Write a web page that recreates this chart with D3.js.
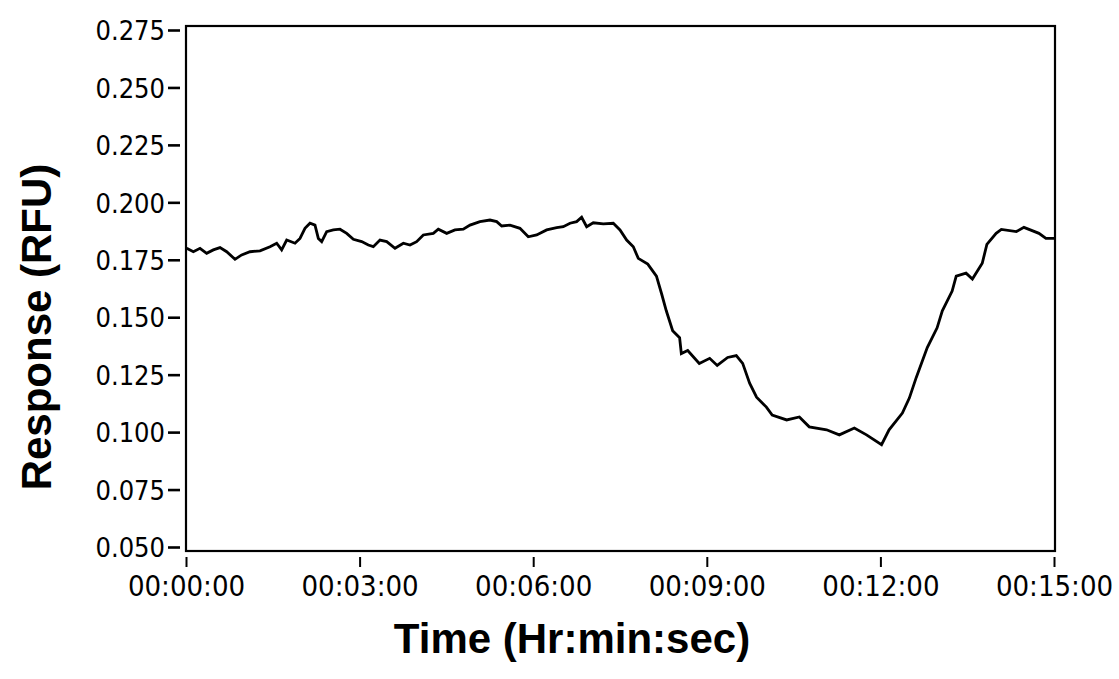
<!DOCTYPE html>
<html>
<head>
<meta charset="utf-8">
<script src="https://cdn.jsdelivr.net/npm/d3@7"></script>
<style>
  html, body { margin: 0; padding: 0; background: #fff; }
  svg { display: block; }
</style>
</head>
<body>
<svg id="chart" width="1119" height="679"></svg>
<script>
// ---- Data (time in minutes, response in RFU) ----
const timeMin = [
  0.012,0.127,0.242,0.357,0.472,0.588,0.703,0.847,0.962,1.106,1.279,1.452,1.567,1.653,1.740,1.884,1.970,2.056,2.143,2.229,
  2.287,2.345,2.431,2.546,2.661,2.777,2.892,3.036,3.151,3.237,3.352,3.468,3.612,3.756,3.871,3.986,4.101,4.274,4.360,4.505,
  4.648,4.792,4.908,5.080,5.253,5.369,5.455,5.599,5.771,5.915,6.060,6.233,6.406,6.520,6.636,6.751,6.837,6.924,7.038,7.211,
  7.384,7.500,7.615,7.730,7.816,7.98,8.13,8.22,8.30,8.41,8.53,8.56,8.67,8.87,9.05,9.18,9.36,9.51,9.62,9.74,
  9.86,10.03,10.13,10.38,10.60,10.77,11.07,11.29,11.55,11.76,12.02,12.15,12.38,12.50,12.62,12.81,12.98,13.07,13.24,13.31,
  13.48,13.59,13.76,13.84,14.00,14.09,14.35,14.48,14.74,14.86,15.00
];
const response = [
  0.1800,0.1785,0.1800,0.1778,0.1793,0.1803,0.1785,0.1752,0.1771,0.1785,0.1789,0.1807,0.1822,0.1793,0.1836,0.1822,0.1843,0.1887,0.1909,0.1901,
  0.1843,0.1829,0.1872,0.1880,0.1883,0.1865,0.1839,0.1829,0.1814,0.1807,0.1836,0.1829,0.1800,0.1822,0.1814,0.1829,0.1858,0.1865,0.1883,0.1865,
  0.1880,0.1883,0.1901,0.1916,0.1923,0.1916,0.1897,0.1901,0.1887,0.1850,0.1858,0.1880,0.1890,0.1894,0.1909,0.1916,0.1935,0.1894,0.1911,0.1906,
  0.1909,0.1880,0.1836,0.1807,0.1756,0.1731,0.1679,0.1601,0.1528,0.1441,0.1411,0.1342,0.1355,0.1299,0.1321,0.1290,0.1325,0.1333,0.1299,0.1213,
  0.1152,0.1109,0.1074,0.1053,0.1066,0.1023,0.1010,0.0988,0.1018,0.0988,0.0945,0.1010,0.1083,0.1148,0.1238,0.1368,0.1454,0.1528,0.1614,0.1679,
  0.1692,0.1666,0.1735,0.1817,0.1865,0.1882,0.1873,0.1891,0.1865,0.1843,0.1843
];
const xTicks = [0, 3, 6, 9, 12, 15];
const xTickLabels = ["00:00:00", "00:03:00", "00:06:00", "00:09:00", "00:12:00", "00:15:00"];
const yTicks = [0.050, 0.075, 0.100, 0.125, 0.150, 0.175, 0.200, 0.225, 0.250, 0.275];
const yTickLabels = ["0.050", "0.075", "0.100", "0.125", "0.150", "0.175", "0.200", "0.225", "0.250", "0.275"];
const xTitle = "Time (Hr:min:sec)";
const yTitle = "Response (RFU)";

// ---- Layout ----
const frame = { left: 186, right: 1055, top: 26, bottom: 551 };
const svg = d3.select("#chart");

const x = d3.scaleLinear().domain([0, 15]).range([186, 1054]);
const y = d3.scaleLinear().domain([0.050, 0.275]).range([547, 30]);

const tickFont = "'DejaVu Sans Condensed', 'DejaVu Sans', sans-serif";
const titleFont = "'Liberation Sans', Arial, sans-serif";

// Frame
svg.append("rect")
  .attr("x", frame.left).attr("y", frame.top)
  .attr("width", frame.right - frame.left).attr("height", frame.bottom - frame.top)
  .attr("fill", "#fff").attr("stroke", "#000").attr("stroke-width", 2.2);

// Y axis (ticks as short dashes left of frame)
const yAxis = d3.axisLeft(y)
  .tickValues(yTicks)
  .tickFormat((d, i) => yTickLabels[i])
  .tickSize(12)
  .tickPadding(3);
const gy = svg.append("g").attr("transform", "translate(180,0)").call(yAxis);
gy.select(".domain").remove();
gy.selectAll(".tick line").attr("stroke", "#000").attr("stroke-width", 2.6).attr("x2", -12).attr("x1", 0);
gy.selectAll(".tick text")
  .attr("font-family", tickFont)
  .attr("font-stretch", "condensed")
  .attr("font-size", 27)
  .attr("fill", "#000")
  .attr("dy", "0.36em");

// X axis (ticks below frame)
const xAxis = d3.axisBottom(x)
  .tickValues(xTicks)
  .tickFormat((d, i) => xTickLabels[i])
  .tickSize(10)
  .tickPadding(8);
const gx = svg.append("g").attr("transform", "translate(0,557)").call(xAxis);
gx.select(".domain").remove();
gx.selectAll(".tick line").attr("stroke", "#000").attr("stroke-width", 2);
gx.selectAll(".tick text")
  .attr("font-family", tickFont)
  .attr("font-stretch", "condensed")
  .attr("font-size", 29)
  .attr("fill", "#000");

// Line
const data = timeMin.map((t, i) => ({ t, v: response[i] }));
const line = d3.line().x(d => x(d.t)).y(d => y(d.v));
svg.append("path")
  .datum(data)
  .attr("d", line)
  .attr("fill", "none")
  .attr("stroke", "#000")
  .attr("stroke-width", 2.8)
  .attr("stroke-linejoin", "miter");

// Axis titles
svg.append("text")
  .attr("x", 572).attr("y", 653)
  .attr("text-anchor", "middle")
  .attr("font-family", titleFont)
  .attr("font-weight", "bold")
  .attr("font-size", 42)
  .attr("fill", "#000")
  .text(xTitle);

svg.append("text")
  .attr("transform", "translate(51,327) rotate(-90)")
  .attr("text-anchor", "middle")
  .attr("font-family", titleFont)
  .attr("font-weight", "bold")
  .attr("font-size", 42)
  .attr("fill", "#000")
  .text(yTitle);
</script>
</body>
</html>
